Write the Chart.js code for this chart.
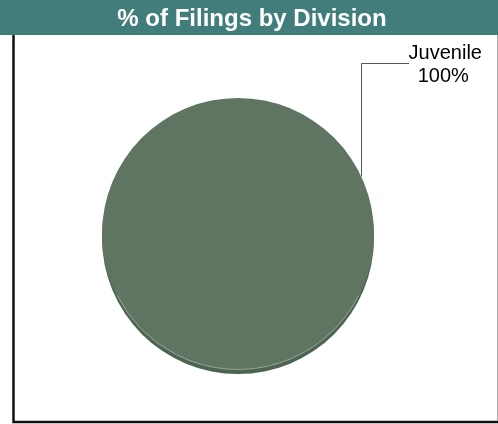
<!DOCTYPE html>
<html>
<head>
<meta charset="utf-8">
<script src="https://cdn.jsdelivr.net/npm/chart.js@4/dist/chart.umd.min.js"></script>
<style>
  html, body { margin: 0; padding: 0; background: #fff; }
  #wrap { width: 498px; height: 424px; }
</style>
</head>
<body>
<div id="wrap"><canvas id="myChart" width="498" height="424"></canvas></div>
<script>
var titleText = "% of Filings by Division";
var divisions = ["Juvenile"];
var shares = [100];
var sliceColors = ["#5f7562"];

// frame + teal title bar
var framePlugin = {
    id: "frame",
    beforeDraw: function(chart) {
        var ctx = chart.ctx;
        ctx.save();
        ctx.fillStyle = "#fff";
        ctx.fillRect(0, 0, chart.width, chart.height);
        ctx.fillStyle = "#417e7b";
        ctx.fillRect(0, 0, chart.width, 35);
        ctx.strokeStyle = "#111";
        ctx.lineWidth = 2.5;
        ctx.beginPath();
        ctx.moveTo(13.5, 35);
        ctx.lineTo(13.5, 422);
        ctx.lineTo(chart.width, 422);
        ctx.stroke();
        ctx.strokeStyle = "#aaa";
        ctx.lineWidth = 1;
        ctx.beginPath();
        ctx.moveTo(497.5, 35);
        ctx.lineTo(497.5, 421);
        ctx.stroke();
        ctx.fillStyle = "#fff";
        ctx.font = "bold 24px 'Liberation Sans', Arial, sans-serif";
        ctx.textAlign = "center";
        ctx.textBaseline = "middle";
        ctx.fillText(titleText, 252, 19);
        ctx.restore();
    },
    // fake 3d rim under the pie
    beforeDatasetsDraw: function(chart) {
        var arc = chart.getDatasetMeta(0).data[0];
        var ctx = chart.ctx;
        ctx.save();
        ctx.fillStyle = "#4e6452";
        ctx.beginPath();
        ctx.arc(arc.x, arc.y + 4, arc.outerRadius, 0, Math.PI * 2);
        ctx.fill();
        ctx.restore();
    },
    afterDatasetsDraw: function(chart) {
        var arc = chart.getDatasetMeta(0).data[0];
        var ctx = chart.ctx;
        ctx.save();
        ctx.strokeStyle = "rgba(200,210,200,0.5)";
        ctx.lineWidth = 1;
        ctx.beginPath();
        ctx.arc(arc.x, arc.y, arc.outerRadius - 0.5, Math.PI * 0.15, Math.PI * 0.85);
        ctx.stroke();

        // leader line + label
        var ang = -25 * Math.PI / 180;
        var px = arc.x + Math.cos(ang) * arc.outerRadius;
        var py = arc.y + Math.sin(ang) * arc.outerRadius;
        var ly = arc.y - arc.outerRadius - 35;
        ctx.strokeStyle = "#555";
        ctx.beginPath();
        ctx.moveTo(Math.round(px) + 0.5, py);
        ctx.lineTo(Math.round(px) + 0.5, ly + 0.5);
        ctx.lineTo(px + 48, ly + 0.5);
        ctx.stroke();
        ctx.fillStyle = "#000";
        ctx.font = "20px 'Liberation Sans', Arial, sans-serif";
        ctx.textAlign = "center";
        ctx.textBaseline = "middle";
        ctx.fillText(divisions[0], px + 84, ly - 10);
        ctx.fillText(shares[0] + "%", px + 82, ly + 13);
        ctx.restore();
    }
};

new Chart("myChart", {
    type: "pie",
    data: {
        labels: divisions,
        datasets: [{
            data: shares,
            backgroundColor: sliceColors,
            borderWidth: 0
        }]
    },
    options: {
        responsive: false,
        animation: false,
        layout: { padding: { left: 102, right: 124, top: 98, bottom: 54 } },
        plugins: {
            legend: { display: false },
            title: { display: false },
            tooltip: { enabled: false }
        }
    },
    plugins: [framePlugin]
});
</script>
</body>
</html>
